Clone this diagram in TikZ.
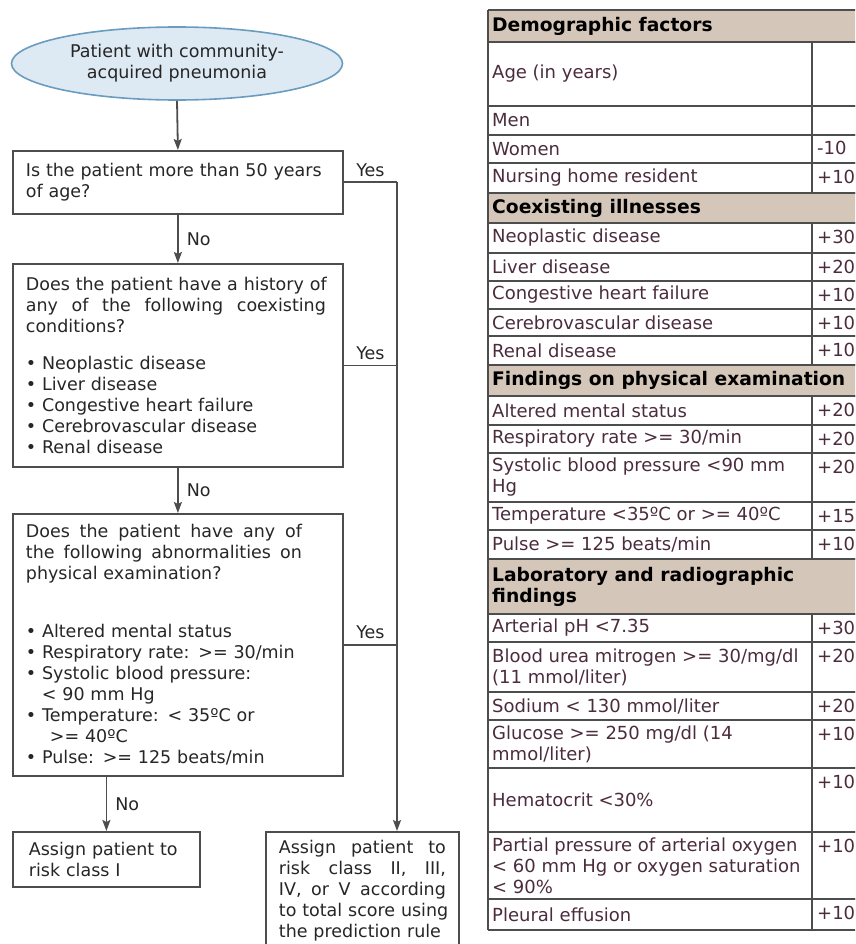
\documentclass[tikz,border=0pt]{standalone}
\usepackage{fontspec}
\setmainfont{DejaVu Sans}
\usetikzlibrary{shapes.geometric,arrows.meta,positioning}
\definecolor{linegray}{HTML}{4D4D4D}
\definecolor{startfill}{HTML}{DDE9F3}
\definecolor{startline}{HTML}{6A9CC0}
\definecolor{sectfill}{HTML}{D4C6B8}
\definecolor{celltext}{HTML}{4B2C3C}
\newcommand\flowfont{\fontsize{17.5}{21}\selectfont}
\newcommand\tabfont{\fontsize{18}{21}\selectfont}
\newcommand\sectfont{\fontsize{18.7}{21}\selectfont\bfseries}
\newcommand\jline[2]{\makebox[#1][s]{#2}}
\tikzset{
	flowbox/.style={draw=linegray,line width=1.8pt,anchor=north west,align=left,inner xsep=13pt,inner ysep=0pt,font=\flowfont,text=black!85},
	start/.style={ellipse,draw=startline,fill=startfill,line width=1.6pt,minimum width=331pt,minimum height=73pt,inner sep=0pt,align=center,font=\flowfont,text=black!85},
	conn/.style={draw=linegray,line width=1.8pt},
	answer/.style={font=\flowfont,text=black!85,inner sep=0pt},
	grid/.style={draw=linegray,line width=1.6pt},
	celltxt/.style={anchor=west,align=left,inner sep=0pt,font=\tabfont,text=celltext}
}
\begin{document}
\begin{tikzpicture}[x=1pt,y=-1pt,>={Stealth[length=11pt,width=8pt,inset=2pt]}]
	\useasboundingbox (0,0) rectangle (855,944);
	\clip (0,0) rectangle (855,944);
	% flow chart
	\node[start] (patient) at (177,63.5) {Patient with community-\\acquired pneumonia};
	\node[flowbox,text width=304pt,minimum height=63pt] (q1) at (12,150) {Is the patient more than 50 years\\of age?};
	\node[flowbox,text width=304pt,minimum height=203pt] (q2) at (12,263) {\jline{300pt}{Does the patient have a history of}\\
		\jline{300pt}{any \hfill of \hfill the \hfill following \hfill coexisting}\\
		conditions?\\[16pt]
		\textbullet\ Neoplastic disease\\
		\textbullet\ Liver disease\\
		\textbullet\ Congestive heart failure\\
		\textbullet\ Cerebrovascular disease\\
		\textbullet\ Renal disease};
	\node[flowbox,text width=304pt,minimum height=262pt] (q3) at (12,513) {\jline{276pt}{Does \hfill the \hfill patient \hfill have \hfill any \hfill of}\\
		\jline{276pt}{the \hfill following \hfill abnormalities \hfill on}\\
		physical examination?\\[37pt]
		\textbullet\ Altered mental status\\
		\textbullet\ Respiratory rate: >= 30/min\\
		\textbullet\ Systolic blood pressure:\\
		\hspace*{16pt}< 90 mm Hg\\
		\textbullet\ Temperature: < 35ºC or\\
		\hspace*{24pt}>= 40ºC\\
		\textbullet\ Pulse: >= 125 beats/min};
	\node[flowbox,text width=155pt,inner xsep=16pt,minimum height=55pt] (q4) at (12,831) {Assign patient to\\risk class I};
	\node[flowbox,text width=167pt,minimum height=118pt] (q5) at (265,831) {\jline{167pt}{Assign \hfill patient \hfill to}\\
		\jline{167pt}{risk \hfill class \hfill II, \hfill III,}\\
		\jline{167pt}{IV, \hfill or \hfill V \hfill according}\\
		\jline{167pt}{to \hfill total \hfill score \hfill using}\\
		\jline{167pt}{the prediction rule}};
	\coordinate (rail) at (397,182);
	\draw[conn,->] (patient.south) -- (q1.north);
	\draw[conn,->] (q1.south) -- node[midway,right=8pt,answer]{No} (q2.north);
	\draw[conn,->] (q2.south) -- node[midway,right=8pt,answer]{No} (q3.north);
	\draw[conn,->] (q3.south -| q4.north) -- node[midway,right=8pt,answer]{No} (q4.north);
	\foreach \q in {q1,q2,q3}
		\draw[conn] (\q.east) -- node[midway,above=5pt,answer]{Yes} (\q.east -| rail);
	\draw[conn,->] (q1.east -| rail) -- (rail |- q5.north);
	% score table
	\foreach \ta/\tb/\txt [count=\i] in {10/42/{Demographic factors},193/223/{Coexisting illnesses},365/396/{Findings on physical examination},559/614/{Laboratory and radiographic\\findings}}{
		\fill[sectfill] (488,\ta) rectangle (870,\tb);
		\node[celltxt,text=black,font=\sectfont] (sect\i) at (492,{(\ta+\tb)/2}) {\txt};
		\draw[grid] (488,\ta) -- (870,\ta) (488,\tb) -- (870,\tb);
	}
	\foreach \ta/\tb/\txt/\val [count=\i] in {42/106/{Age (in years)}/{},106/135/{Men}/{},135/163/{Women}/{-10},163/193/{Nursing home resident}/{+10},
		223/253/{Neoplastic disease}/{+30},253/281/{Liver disease}/{+20},281/309/{Congestive heart failure}/{+10},309/336/{Cerebrovascular disease}/{+10},336/365/{Renal disease}/{+10},
		396/425/{Altered mental status}/{+20},425/453/{Respiratory rate >= 30/min}/{+20},453/502/{Systolic blood pressure <90 mm\\Hg}/{+20},502/530/{Temperature <35ºC or >= 40ºC}/{+15},530/559/{Pulse >= 125 beats/min}/{+10},
		614/642/{Arterial pH <7.35}/{+30},642/692/{Blood urea mitrogen >= 30/mg/dl\\(11 mmol/liter)}/{+20},692/720/{Sodium < 130 mmol/liter}/{+20},720/768/{Glucose >= 250 mg/dl (14\\mmol/liter)}/{+10},
		768/832/{Hematocrit <30\%}/{+10},832/899/{Partial pressure of arterial oxygen\\< 60 mm Hg or oxygen saturation\\< 90\%}/{+10},899/930/{Pleural effusion}/{+10}}{
		\node[celltxt] (row\i) at (492,{(\ta+\tb)/2}) {\txt};
		\node[celltxt,anchor=base west] (score\i) at (817,\ta+20) {\val};
		\draw[grid] (488,\ta) -- (870,\ta) (488,\tb) -- (870,\tb) (812,\ta) -- (812,\tb);
	}
	\draw[grid] (488,10) -- (488,930);
\end{tikzpicture}
\end{document}
